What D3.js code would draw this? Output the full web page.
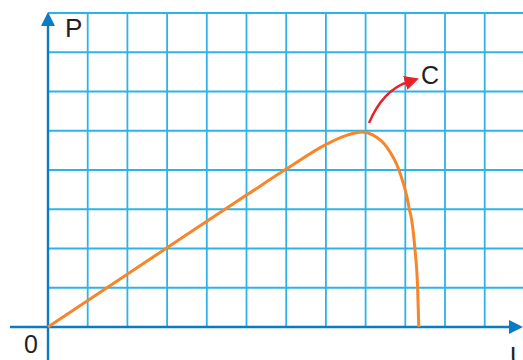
<!DOCTYPE html>
<html>
<head>
<meta charset="utf-8">
<script src="https://cdn.jsdelivr.net/npm/d3@7"></script>
<style>
  html, body { margin: 0; padding: 0; background: #fff; }
  svg { display: block; }
  text { font-family: "Liberation Sans", Arial, sans-serif; fill: #231f20; }
</style>
</head>
<body>
<svg id="chart" width="523" height="360"></svg>
<script>
// grid in units: 12 columns, 8 rows
var gridCols = d3.range(1, 12);
var gridRows = d3.range(1, 9);

// P-U curve (grid units)
var curveU = [0, 3.0, 5.0, 6.01, 7.02, 7.48, 7.91, 8.19, 8.53, 8.84, 8.94, 9.04, 9.10, 9.16, 9.24, 9.31, 9.34];
var curveP = [0, 2.02, 3.36, 4.03, 4.66, 4.87, 4.97, 4.89, 4.59, 4.0, 3.69, 3.32, 3.01, 2.73, 2.01, 1.0, 0];

var svg = d3.select('#chart');

var x = d3.scaleLinear().domain([0, 12]).range([48, 524.4]),
    y = d3.scaleLinear().domain([0, 8]).range([327, 13]);

var defs = svg.append('defs');
defs.append('marker')
    .attr('id', 'redHead')
    .attr('viewBox', '0 0 10 10')
    .attr('refX', 2).attr('refY', 5)
    .attr('markerWidth', 6).attr('markerHeight', 6)
    .attr('markerUnits', 'strokeWidth')
    .attr('orient', 'auto')
    .append('path').attr('d', 'M0,0L10,5L0,10Z').attr('fill', '#e8212b');

// grid
var grid = svg.append('g').attr('stroke', '#2cb4e8').attr('stroke-width', 1.8);
grid.selectAll('line.v').data(gridCols).enter().append('line')
    .attr('class', 'v')
    .attr('x1', function (d) { return x(d); }).attr('x2', function (d) { return x(d); })
    .attr('y1', y(0)).attr('y2', y(8));
grid.selectAll('line.h').data(gridRows).enter().append('line')
    .attr('class', 'h')
    .attr('x1', x(0)).attr('x2', 523)
    .attr('y1', function (d) { return y(d); }).attr('y2', function (d) { return y(d); });

// axes
var axisColor = '#0b7cc3';
svg.append('line').attr('x1', 10).attr('x2', 510).attr('y1', y(0)).attr('y2', y(0))
    .attr('stroke', axisColor).attr('stroke-width', 2.4);
svg.append('line').attr('x1', x(0)).attr('x2', x(0)).attr('y1', 360).attr('y2', 25)
    .attr('stroke', axisColor).attr('stroke-width', 2.4);
svg.append('path')
    .attr('d', 'M' + (x(0) - 7) + ',26L' + x(0) + ',12L' + (x(0) + 7) + ',26Z')
    .attr('fill', axisColor);
svg.append('path')
    .attr('d', 'M509,' + (y(0) - 7) + 'L523,' + y(0) + 'L509,' + (y(0) + 7) + 'Z')
    .attr('fill', axisColor);

// curve
var pts = curveU.map(function (u, i) { return [u, curveP[i]]; });
var line = d3.line()
    .x(function (d) { return x(d[0]); })
    .y(function (d) { return y(d[1]); })
    .curve(d3.curveMonotoneX);
svg.append('path').datum(pts)
    .attr('d', line)
    .attr('fill', 'none')
    .attr('stroke', '#f7862a')
    .attr('stroke-width', 3);

// red arrow pointing to C
svg.append('path')
    .attr('d', 'M369,123 Q383,90 408,82')
    .attr('fill', 'none')
    .attr('stroke', '#e8212b')
    .attr('stroke-width', 2.4)
    .attr('marker-end', 'url(#redHead)');

// labels
svg.append('text').attr('x', 65).attr('y', 37).attr('font-size', 26).text('P');
svg.append('text').attr('x', 24).attr('y', 353).attr('font-size', 25).text('0');
svg.append('text').attr('x', 421).attr('y', 84).attr('font-size', 25).text('C');
// U sits partly below the bottom edge, as in the reference
svg.append('text').attr('x', 510).attr('y', 365).attr('font-size', 25).text('U');
</script>
</body>
</html>
